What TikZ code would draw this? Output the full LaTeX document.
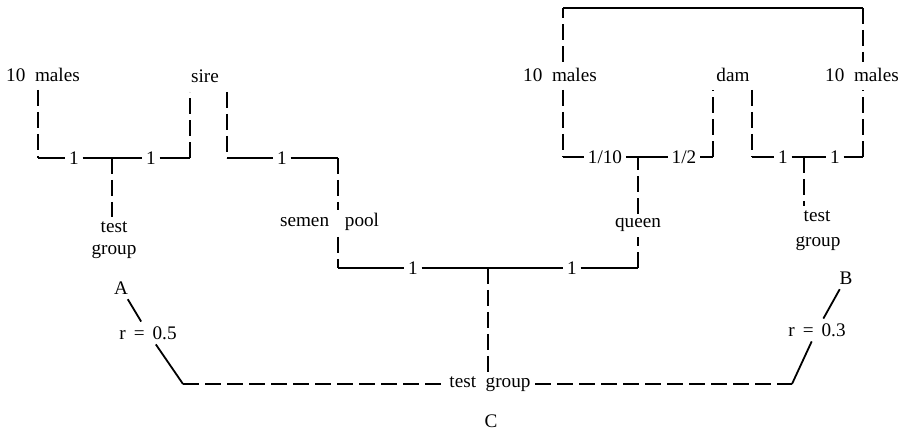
\documentclass[tikz,border=0pt]{standalone}
\usepackage{fontspec}
\setmainfont{Liberation Serif}
\begin{document}
\begin{tikzpicture}[x=0.5pt,y=-0.5pt, line width=0.9pt,
  txt/.style={inner sep=2pt, font=\fontsize{9.6}{12}\selectfont},
  lbl/.style={txt, inner sep=1.5pt},
  dsh/.style={dash pattern=on 8pt off 3pt},
]
\useasboundingbox (0,0) rectangle (907,431);

% ---- top labels
\node[txt] (m1) at (43,75) {10\ \ males};
\node[txt] (sire) at (205,76) {sire};
\node[txt] (m2) at (560,75) {10\ \ males};
\node[txt] (dam) at (733,75) {dam};
\node[txt] (m3) at (862,75) {10\ \ males};

% ---- left pedigree
\node[lbl] (l1) at (74,158) {1};
\node[lbl] (l2) at (151,158) {1};
\node[lbl] (l3) at (282,158) {1};
\node[txt, anchor=base] (test1) at (114,233) {test};
\node[txt, anchor=base] (group1) at (114,255) {group};

\coordinate (a1) at (38,90);
\coordinate (a2) at (38,158);
\coordinate (t1) at (112,158);
\coordinate (a3) at (190,158);
\coordinate (a4) at (190,92);
\draw[dsh] (a1) -- (a2);
\draw (a2) -- (l1);
\draw (l1) -- (l2);
\draw (l2) -- (a3);
\draw[dsh] (a3) -- (a4);
\draw[dsh] (t1) -- (t1 |- test1.north);

% ---- sire to semen pool
\node[txt, anchor=base east] (semen) at (334,227) {semen};
\node[txt, anchor=base west] (pool) at (340,227) {pool};
\coordinate (a5) at (227,92);
\coordinate (a6) at (227,158);
\coordinate (a7) at (338,158);
\coordinate (s1) at (338,210);
\coordinate (s2) at (338,237);
\coordinate (a8) at (338,268);
\draw[dsh] (a5) -- (a6);
\draw (a6) -- (l3);
\draw (l3) -- (a7);
\draw[dsh] (a7) -- (s1);
\draw[dsh] (s2) -- (a8);

% ---- middle bottom bar
\node[lbl] (b1) at (413,268) {1};
\node[lbl] (b2) at (572,268) {1};
\coordinate (t2) at (488,268);
\coordinate (a9) at (638,268);
\draw (a8) -- (b1);
\draw (b1) -- (b2);
\draw (b2) -- (a9);

% ---- queen
\node[txt, anchor=base] (queen) at (638,228) {queen};
\coordinate (t3) at (638,157);
\draw[dsh] (a9) -- (queen.south);
\draw[dsh] (queen.north) -- (t3);

% ---- right pedigree
\coordinate (r1) at (563,62);
\coordinate (r2) at (563,8);
\coordinate (r3) at (863,8);
\coordinate (r4) at (863,62);
\draw[dsh] (r1) -- (r2);
\draw (r2) -- (r3);
\draw[dsh] (r3) -- (r4);

\node[lbl] (f1) at (605,157) {1/10};
\node[lbl] (f2) at (684,157) {1/2};
\coordinate (r5) at (563,90);
\coordinate (r6) at (563,157);
\coordinate (r7) at (713,157);
\coordinate (r8) at (713,90);
\draw[dsh] (r5) -- (r6);
\draw (r6) -- (f1);
\draw (f1) -- (f2);
\draw (f2) -- (r7);
\draw[dsh] (r7) -- (r8);

\node[lbl] (g1) at (783,157) {1};
\node[lbl] (g2) at (835,157) {1};
\node[txt, anchor=base] (test2) at (817,222) {test};
\node[txt, anchor=base] (group2) at (818,247) {group};
\coordinate (r9) at (752,90);
\coordinate (r10) at (752,157);
\coordinate (t4) at (804,157);
\coordinate (r11) at (863,157);
\coordinate (r12) at (863,90);
\draw[dsh] (r9) -- (r10);
\draw (r10) -- (g1);
\draw (g1) -- (g2);
\draw (g2) -- (r11);
\draw[dsh] (r11) -- (r12);
\draw[dsh] (t4) -- (t4 |- test2.north);

% ---- bottom relationships
\node[txt] (A) at (121,288) {A};
\node[txt] (rr1) at (148,333) {r\hspace{4pt}=\hspace{4pt}0.5};
\node[txt] (B) at (846,278) {B};
\node[txt] (rr2) at (817,330) {r\hspace{4pt}=\hspace{4pt}0.3};
\node[txt] (tgb) at (490,384) {test\ \ group};
\node[txt] (C) at (491,421) {C};
\coordinate (ca) at (183,384);
\coordinate (cb) at (792,384);
\draw[dsh] (t2) -- (t2 |- tgb.north);
\draw (A) -- (rr1);
\draw (rr1) -- (ca);
\draw[dsh] (ca) -- (tgb.west);
\draw[dsh] (tgb.east) -- (cb);
\draw (cb) -- (rr2);
\draw (rr2) -- (B);
\end{tikzpicture}
\end{document}
